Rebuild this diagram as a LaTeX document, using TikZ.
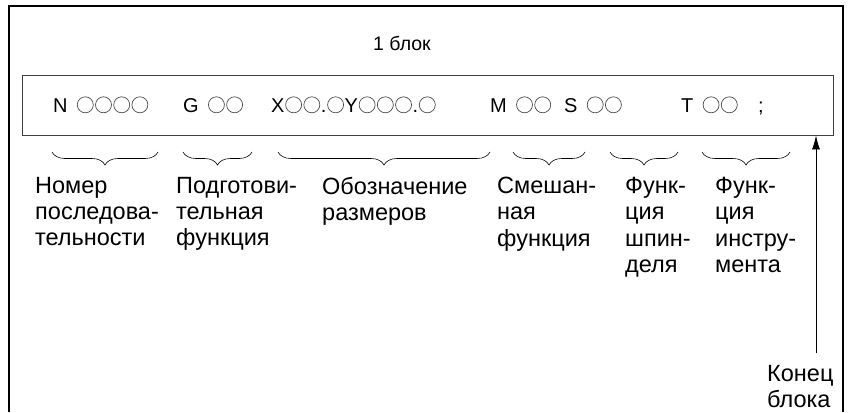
\documentclass[tikz,border=0pt]{standalone}
\usepackage{fontspec}
\setmainfont{Liberation Sans}
\usetikzlibrary{decorations.pathreplacing,arrows.meta}

\newcommand{\oc}{\tikz[baseline=-7.2pt]{\path[use as bounding box] (-9.1pt,-8pt) rectangle (9.1pt,8pt); \draw[line width=0.7pt, black!70] (0pt,0pt) circle[radius=8pt];}}

\tikzset{
	frame/.style={line width=1.4pt},
	blockbox/.style={draw=black!75, line width=0.9pt, minimum width=811pt, minimum height=60pt, inner sep=0pt},
	word/.style={anchor=base west, inner sep=0pt, font=\fontsize{20}{24}\selectfont},
	brc/.style={decorate, decoration={brace, mirror, amplitude=13pt}, line width=0.6pt},
	lbl/.style={anchor=north west, inner sep=0pt, align=left, font=\fontsize{23.5}{26.3}\selectfont},
}

\begin{document}
\begin{tikzpicture}[x=1pt,y=-1pt]
		\useasboundingbox (0,0) rectangle (850,412);
		\draw[frame] (9,412) -- (9,6) -- (843,6) -- (843,412);
		\node[font=\fontsize{19.5}{23}\selectfont, anchor=base, inner sep=0pt] (title) at (402,50) {1 блок};
		\node[blockbox] (blk) at (427.5,105) {};
		\node[word] (n) at (53,112) {N\hspace{3pt} \oc\oc\oc\oc};
		\node[word] (g) at (183,112) {G\hspace{3pt} \oc\oc};
		\node[word] (xy) at (271,112) {X\oc\oc.\oc Y\oc\oc\oc.\oc};
		\node[word] (m) at (490,112) {M\hspace{3pt} \oc\oc};
		\node[word] (s) at (564,112) {S\hspace{3pt} \oc\oc};
		\node[word] (t) at (681,112) {T\hspace{3pt} \oc\oc};
		\node[word] (semi) at (758,112) {;};
		\foreach \a/\b/\lx/\txt [count=\i] in {
			52/158/35/{Номер\\последова-\\тельности},
			183/252/176/{Подготови-\\тельная\\функция},
			278/490/322/{Обозначение\\размеров},
			513/585/497/{Смешан-\\ная\\функция},
			610/678/625/{Функ-\\ция\\шпин-\\деля},
			702/790/715/{Функ-\\ция\\инстру-\\мента}} {
			\draw[brc] (\a,152) -- (\b,152);
			\node[lbl] (lab\i) at (\lx,177) {\txt};
		}
		\node[lbl] (endlbl) at (767,365) {Конец\\блока};
		\coordinate (foot) at (816,353);
		\draw[line width=0.8pt, -{Latex[length=14pt,width=8pt]}] (foot) -- (foot |- blk.south);
	\end{tikzpicture}
\end{document}
